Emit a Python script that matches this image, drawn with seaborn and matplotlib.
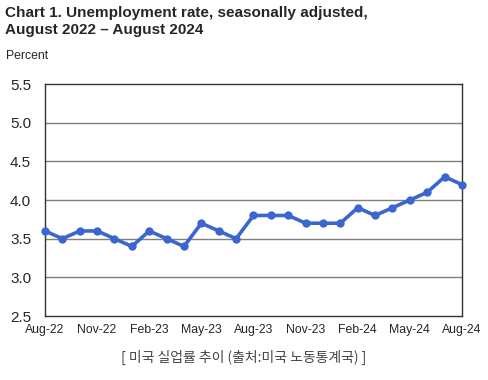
import matplotlib
matplotlib.use("Agg")
import matplotlib.pyplot as plt
import seaborn as sns
import pandas as pd
import numpy as np

months = ["Aug-22", "Sep-22", "Oct-22", "Nov-22", "Dec-22", "Jan-23", "Feb-23", "Mar-23",
          "Apr-23", "May-23", "Jun-23", "Jul-23", "Aug-23", "Sep-23", "Oct-23", "Nov-23",
          "Dec-23", "Jan-24", "Feb-24", "Mar-24", "Apr-24", "May-24", "Jun-24", "Jul-24", "Aug-24"]
rates = [3.6, 3.5, 3.6, 3.6, 3.5, 3.4, 3.6, 3.5, 3.4, 3.7, 3.6, 3.5, 3.8, 3.8, 3.8, 3.7,
         3.7, 3.7, 3.9, 3.8, 3.9, 4.0, 4.1, 4.3, 4.2]
yticks = [2.5, 3.0, 3.5, 4.0, 4.5, 5.0, 5.5]

sns.set_style("white")
plt.rcParams['font.family'] = ['Liberation Sans', 'DejaVu Sans']

df = pd.DataFrame({"idx": np.arange(len(months)), "rate": rates})

fig = plt.figure(figsize=(4.88, 3.8), dpi=100)
ax = fig.add_axes([0.0922, 0.1684, 0.8545, 0.6105])

for y in yticks[1:-1]:
    ax.axhline(y, color="#7f7f7f", lw=1.0, zorder=1)

sns.lineplot(data=df, x="idx", y="rate", ax=ax, color="#3b66cf", lw=2.6,
             marker="o", markersize=6, markeredgewidth=0, zorder=3, clip_on=False)

ax.set_xlim(0, len(months) - 1)
ax.set_ylim(2.5, 5.5)
ax.set_yticks(yticks)
ax.set_yticklabels([f"{v:.1f}" for v in yticks], fontsize=11)
ax.set_xticks(np.arange(len(months)))
ax.set_xticklabels([m if i % 3 == 0 else "" for i, m in enumerate(months)], fontsize=8.8)
ax.tick_params(axis="x", direction="in", length=3, width=0.8, color="#333333", pad=6)
ax.tick_params(axis="y", length=0, pad=10)
ax.set_xlabel("")
ax.set_ylabel("")
for s in ax.spines.values():
    s.set_color("#333333")
    s.set_linewidth(1.0)

fig.text(0.010, 0.985, "Chart 1. Unemployment rate, seasonally adjusted,\nAugust 2022 \u2013 August 2024",
         fontsize=11, fontweight="bold", va="top", ha="left", linespacing=1.3)
fig.text(0.012, 0.852, "Percent", fontsize=8.8, va="center", ha="left")
fig.text(0.5, 0.06, "[ 미국 실업률 추이 (출처:미국 노동통계국) ]", fontsize=10, color="#444444",
         ha="center", va="center", family=['Noto Sans CJK KR', 'DejaVu Sans'])

fig.savefig("out.png", dpi=100)
